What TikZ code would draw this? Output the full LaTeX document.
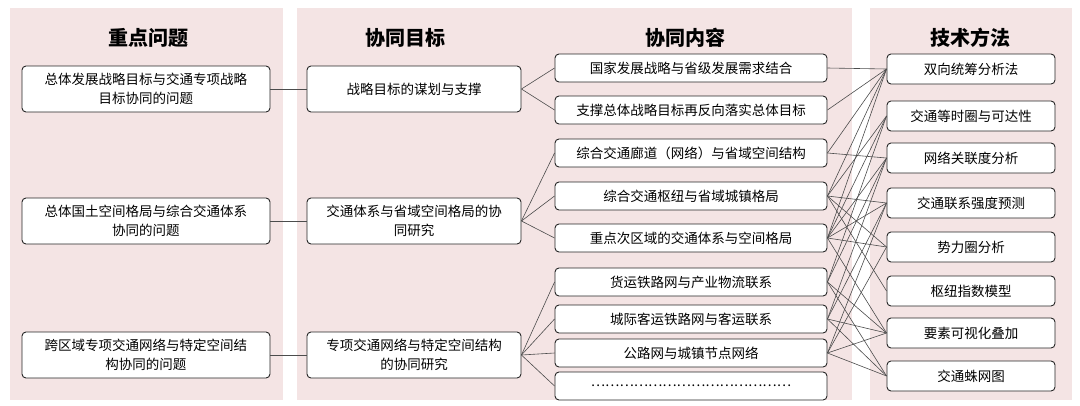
\documentclass[tikz,border=0pt]{standalone}
\usepackage{fontspec}
\setmainfont{Noto Sans CJK SC}
\definecolor{bg}{RGB}{244,228,228}
\begin{document}
\begin{tikzpicture}[x=1pt,y=-1pt,
 bx/.style={draw=black!85,line width=0.9pt,rounded corners=4pt,fill=white,inner sep=0pt,align=center,font=\fontsize{13.5}{19}\selectfont},
 hd/.style={font=\fontsize{20}{24}\selectfont\bfseries},
 ln/.style={draw=black!70,line width=0.6pt}]
\useasboundingbox (0,0) rectangle (1080,405);
\fill[white] (0,0) rectangle (1080,405);
\fill[bg] (10,8) rectangle (283,400);
\fill[bg] (297,8) rectangle (852,400);
\fill[bg] (870,8) rectangle (1072,400);
\node[hd] (h1) at (148,38) {重点问题};
\node[hd] (h2) at (405,38) {协同目标};
\node[hd] (h3) at (685,38) {协同内容};
\node[hd] (h4) at (970,38) {技术方法};
% problems
\node[bx,minimum width=248,minimum height=46] (p1) at (146,89) {总体发展战略目标与交通专项战略\\目标协同的问题};
\node[bx,minimum width=248,minimum height=46] (p2) at (146,221) {总体国土空间格局与综合交通体系\\协同的问题};
\node[bx,minimum width=248,minimum height=46] (p3) at (146,355) {跨区域专项交通网络与特定空间结\\构协同的问题};
% goals
\node[bx,minimum width=214,minimum height=46] (g1) at (414,89) {战略目标的谋划与支撑};
\node[bx,minimum width=214,minimum height=46] (g2) at (414,221) {交通体系与省域空间格局的协\\同研究};
\node[bx,minimum width=214,minimum height=46] (g3) at (414,355) {专项交通网络与特定空间结构\\的协同研究};
% contents
\foreach \n/\y/\t in {1/68/国家发展战略与省级发展需求结合,2/110/支撑总体战略目标再反向落实总体目标,3/153/综合交通廊道（网络）与省域空间结构,4/196/综合交通枢纽与省域城镇格局,5/238/重点次区域的交通体系与空间格局,6/282/货运铁路网与产业物流联系,7/319/城际客运铁路网与客运联系,8/353/公路网与城镇节点网络,9/386/……………………………………}
 \node[bx,minimum width=272,minimum height=28] (c\n) at (691,\y) {\t};
% methods
\foreach \n/\y/\t in {1/69/双向统筹分析法,2/116/交通等时圈与可达性,3/158/网络关联度分析,4/203/交通联系强度预测,5/247/势力圈分析,6/291/枢纽指数模型,7/333/要素可视化叠加,8/376/交通蛛网图}
 \node[bx,minimum width=168,minimum height=30] (m\n) at (971,\y) {\t};
% connectors
\foreach \i in {1,2,3} \draw[ln] (p\i.east) -- (g\i.west);
\foreach \c in {1,2} \draw[ln] (g1.east) -- (c\c.west);
\foreach \c in {3,4,5} \draw[ln] (g2.east) -- (c\c.west);
\foreach \c in {6,7,8,9} \draw[ln] (g3.east) -- (c\c.west);
\foreach \c/\m in {1/1,2/1,3/1,3/3,4/1,4/2,4/4,4/5,4/6,5/1,5/2,5/3,5/4,5/5,5/7,6/2,6/3,6/7,6/8,7/3,7/4,7/7,7/8,8/4,8/5,8/7,8/8}
 \draw[ln] (c\c.east) -- (m\m.west);
\end{tikzpicture}
\end{document}
